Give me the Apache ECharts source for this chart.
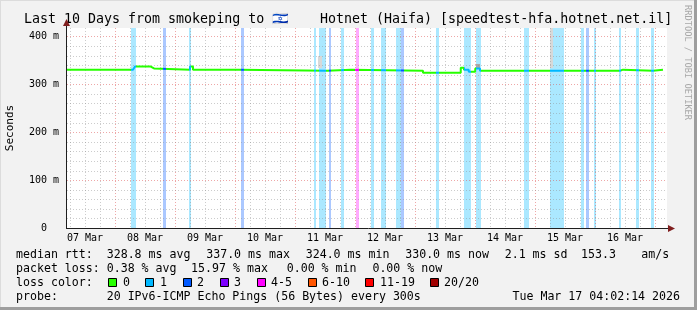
<!DOCTYPE html>
<html><head><meta charset="utf-8">
<script src="https://cdn.jsdelivr.net/npm/echarts@6/dist/echarts.min.js"></script>
<style>html,body{margin:0;padding:0;background:#f2f2f2}#c{width:697px;height:310px}</style>
</head><body><div id="c"></div>
<script>
// ---- data (time in hours since 07 Mar 00:00) ----
const dayLabels = ['07 Mar','08 Mar','09 Mar','10 Mar','11 Mar','12 Mar','13 Mar','14 Mar','15 Mar','16 Mar'];
const labelHours = [12, 36, 60, 84, 108, 132, 156, 180, 204, 228];
const yTickLabels = ['0', '100 m', '200 m', '300 m', '400 m'];

// median RTT (ms), step line
const rttTimes  = [4.8, 31.2, 32.0, 38.3, 38.8, 39.6, 54.0, 55.2, 73.6, 108.8, 118.4, 147.2, 162.3, 163.6, 165.5, 168.1, 170.0, 226.0, 227.2, 239.2, 243.2];
const rttValues = [330.5, 334, 337, 335, 333, 330.5, 337, 330.5, 328.4, 330.5, 328.4, 324.2, 334.7, 330.3, 326, 333, 328.4, 330.5, 328.4, 330.5, 330.5];

// packet loss periods: start, end (hours), loss colour class
const bandStart = [30.4, 43.2, 53.6, 74.4, 103.6, 105.6, 109.6, 114.4, 120.2, 126.4, 130.4, 136.4, 138.4, 152.4, 163.6, 168.4, 187.6, 198.0, 210.4, 212.4, 215.6, 225.6, 232.4, 238.4];
const bandEnd   = [32.4, 44.4, 54.4, 75.6, 104.4, 108.4, 110.4, 115.6, 121.6, 127.6, 132.4, 138.4, 139.6, 153.6, 166.4, 170.4, 189.6, 203.6, 211.6, 213.6, 216.4, 226.4, 233.6, 239.6];
const bandLoss  = [1, 2, 1, 2, 1, 1, 2, 1, 4, 1, 1, 1, 2, 1, 1, 1, 1, 1, 1, 2, 1, 1, 1, 1];

// smoke (rtt spread) patches
const smokeStart = [105.2, 168.4, 198.0];
const smokeEnd   = [106.8, 170.0, 199.2];
const smokeLow   = [334, 334, 334];
const smokeHigh  = [360, 342, 430];
const smokeLevel = [1, 3, 1];

const lossNames = ['0', '1', '2', '3', '4-5', '6-10', '11-19', '20/20'];

// ---- styling ----
const X0 = 4.8, X1 = 244.8, YMAX = 417.5;
const lossColors = ['#26ff00', '#00b8ff', '#0059ff', '#7e00ff', '#ff00ff', '#ff5500', '#ff0000', '#a10000'];
const smokeColors = ['#ffffff', '#d8d8d8', '#c0c0c0', '#a8a8a8'];
function alpha(hex, a) {
  const n = parseInt(hex.slice(1), 16);
  return 'rgba(' + (n >> 16) + ',' + ((n >> 8) & 255) + ',' + (n & 255) + ',' + a + ')';
}
const MONO = '"DejaVu Sans Mono", monospace';
const MINOR = 'rgba(143,143,143,0.45)';
const MAJOR = 'rgba(222,79,79,0.5)';

// visual pieces for line colour
const pieces = [];
let cur = X0 - 10;
for (let i = 0; i < bandStart.length; i++) {
  if (bandStart[i] > cur) pieces.push({gte: cur, lt: bandStart[i], color: lossColors[0]});
  pieces.push({gte: bandStart[i], lt: bandEnd[i], color: lossColors[bandLoss[i]]});
  cur = bandEnd[i];
}
pieces.push({gte: cur, lte: X1 + 10, color: lossColors[0]});

// grid positions
const vGrid = [];
for (let h = 6; h < X1; h += 6) if (h > X0) vGrid.push([h, h % 24 === 0 ? 1 : 0]);
const hGrid = [];
for (let v = 20; v < YMAX; v += 20) hGrid.push([X0, v, v % 100 === 0 ? 1 : 0]);

const chart = echarts.init(document.getElementById('c'), null, {renderer: 'canvas', width: 697, height: 310});

function txt(x, y, s, opts) {
  return Object.assign({type: 'text', x: x, y: y, silent: true,
    style: Object.assign({text: s, font: '11.6px ' + MONO, fill: '#000', textAlign: 'left', textVerticalAlign: 'middle'}, opts || {})});
}

const graphics = [];
// frame
graphics.push({type: 'rect', shape: {x: 0, y: 0, width: 697, height: 1}, style: {fill: '#dcdcdc'}, silent: true});
graphics.push({type: 'rect', shape: {x: 0, y: 0, width: 1, height: 310}, style: {fill: '#dcdcdc'}, silent: true});
graphics.push({type: 'rect', shape: {x: 694, y: 0, width: 3, height: 310}, style: {fill: '#9e9e9e'}, silent: true});
graphics.push({type: 'rect', shape: {x: 0, y: 307, width: 697, height: 3}, style: {fill: '#9e9e9e'}, silent: true});
// title (split so that the flag keeps the original spacing)
graphics.push(txt(24, 19.5, 'Last 10 Days from smokeping to \u{1F1EE}\u{1F1F1}', {font: '13.3px ' + MONO}));
graphics.push(txt(320, 19.5, 'Hotnet (Haifa) [speedtest-hfa.hotnet.net.il]', {font: '13.3px ' + MONO}));
// vertical labels
graphics.push({type: 'text', x: 10.5, y: 128, rotation: Math.PI / 2, silent: true,
  style: {text: 'Seconds', font: '11px ' + MONO, fill: '#000', textAlign: 'center', textVerticalAlign: 'middle'}});
graphics.push({type: 'text', x: 687, y: 5, rotation: -Math.PI / 2, silent: true,
  style: {text: 'RRDTOOL / TOBI OETIKER', font: '8.7px ' + MONO, fill: '#a8a8a8', textAlign: 'left', textVerticalAlign: 'middle'}});
// axes lines + arrows
graphics.push({type: 'line', shape: {x1: 67, y1: 228.5, x2: 670, y2: 228.5}, style: {stroke: '#1f1f1f', lineWidth: 1}, z: 100, silent: true});
graphics.push({type: 'polygon', shape: {points: [[668, 225], [668, 232], [675, 228.5]]}, style: {fill: '#801f1f'}, z: 100, silent: true});
graphics.push({type: 'line', shape: {x1: 66.5, y1: 229, x2: 66.5, y2: 25}, style: {stroke: '#1f1f1f', lineWidth: 1}, z: 100, silent: true});
graphics.push({type: 'polygon', shape: {points: [[63, 26], [70, 26], [66.5, 19]]}, style: {fill: '#801f1f'}, z: 100, silent: true});

// legend rows
const r1 = 254.5, r2 = 268.5, r3 = 282.5, r4 = 296.5;
graphics.push(txt(16, r1, 'median rtt:'));
graphics.push(txt(106.7, r1, '328.8 ms avg'));
graphics.push(txt(206.2, r1, '337.0 ms max'));
graphics.push(txt(305.7, r1, '324.0 ms min'));
graphics.push(txt(405.2, r1, '330.0 ms now'));
graphics.push(txt(504.7, r1, '2.1 ms sd'));
graphics.push(txt(581, r1, '153.3'));
graphics.push(txt(641.3, r1, 'am/s'));
graphics.push(txt(16, r2, 'packet loss:'));
graphics.push(txt(106.7, r2, '0.38 % avg'));
graphics.push(txt(191.1, r2, '15.97 % max'));
graphics.push(txt(286.7, r2, '0.00 % min'));
graphics.push(txt(372.4, r2, '0.00 % now'));
graphics.push(txt(16, r3, 'loss color:'));
const boxX = [108, 145.3, 182.7, 219.6, 256.9, 307.6, 365.3, 430.2];
const boxTextX = [123, 160, 197, 234, 271, 322, 380, 444];
for (let i = 0; i < lossNames.length; i++) {
  graphics.push({type: 'rect', shape: {x: Math.round(boxX[i]) + 0.5, y: 278.5, width: 8, height: 8},
    style: {fill: lossColors[i], stroke: '#000', lineWidth: 1}, silent: true});
  graphics.push(txt(boxTextX[i], r3, lossNames[i]));
}
graphics.push(txt(16, r4, 'probe:'));
graphics.push(txt(106.7, r4, '20 IPv6-ICMP Echo Pings (56 Bytes) every 300s'));
graphics.push(txt(680, r4, 'Tue Mar 17 04:02:14 2026', {textAlign: 'right'}));

const option = {
  animation: false,
  backgroundColor: '#f2f2f2',
  grid: {left: 67, top: 28, width: 600, height: 200, show: true, backgroundColor: '#ffffff', borderWidth: 0},
  xAxis: {
    type: 'value', min: X0, max: X1,
    axisLine: {show: false}, axisTick: {show: false}, splitLine: {show: false},
    axisLabel: {customValues: labelHours, formatter: function (v) { const i = labelHours.indexOf(v); return i >= 0 ? dayLabels[i] : ''; },
      fontFamily: MONO, fontSize: 10, color: '#000', margin: 5}
  },
  yAxis: {
    type: 'value', min: 0, max: YMAX, interval: 100,
    axisLine: {show: false}, axisTick: {show: false}, splitLine: {show: false},
    axisLabel: {showMaxLabel: false, formatter: function (v) { const i = v / 100; return yTickLabels[i] === '0' ? '0  ' : (yTickLabels[i] || ''); },
      fontFamily: MONO, fontSize: 10, color: '#000', margin: 8}
  },
  visualMap: {type: 'piecewise', show: false, dimension: 0, seriesIndex: 4, pieces: pieces},
  series: [
    {
      type: 'custom', z: 1, silent: true, encode: {x: [0, 1]},
      data: bandStart.map((s, i) => [s, bandEnd[i], bandLoss[i]]),
      renderItem: function (params, api) {
        const cs = params.coordSys;
        const a = Math.round(api.coord([api.value(0), 0])[0]);
        const b = Math.round(api.coord([api.value(1), 0])[0]);
        return {type: 'rect', shape: {x: a, y: cs.y, width: Math.max(1, b - a), height: cs.height},
          style: {fill: alpha(lossColors[api.value(2)], 0.33)}};
      }
    },
    {
      type: 'custom', z: 2, silent: true, encode: {x: [0, 1], y: [2, 3]},
      data: smokeStart.map((s, i) => [s, smokeEnd[i], smokeLow[i], smokeHigh[i], smokeLevel[i]]),
      renderItem: function (params, api) {
        const cs = params.coordSys;
        const p0 = api.coord([api.value(0), api.value(3)]);
        const p1 = api.coord([api.value(1), api.value(2)]);
        const top = Math.max(cs.y, Math.round(p0[1]));
        const x0 = Math.round(p0[0]), x1 = Math.round(p1[0]);
        return {type: 'rect', shape: {x: x0, y: top, width: x1 - x0, height: Math.round(p1[1]) - top},
          style: {fill: smokeColors[api.value(4)]}};
      }
    },
    {
      type: 'custom', z: 3, silent: true, encode: {x: 0},
      data: vGrid,
      renderItem: function (params, api) {
        const cs = params.coordSys;
        const x = Math.round(api.coord([api.value(0), 0])[0]) + 0.5;
        return {type: 'line', shape: {x1: x, y1: cs.y, x2: x, y2: cs.y + cs.height},
          style: {stroke: api.value(1) ? MAJOR : MINOR, lineWidth: 1, lineDash: [1, 2]}};
      }
    },
    {
      type: 'custom', z: 3, silent: true, encode: {x: 0, y: 1},
      data: hGrid,
      renderItem: function (params, api) {
        const cs = params.coordSys;
        const y = Math.round(api.coord([X0, api.value(1)])[1]) + 0.5;
        return {type: 'line', shape: {x1: cs.x, y1: y, x2: cs.x + cs.width, y2: y},
          style: {stroke: api.value(2) ? MAJOR : MINOR, lineWidth: 1, lineDash: [1, 2]}};
      }
    },
    {
      type: 'line', z: 5, step: 'end', showSymbol: false, silent: true,
      data: rttTimes.map((t, i) => [t, rttValues[i]]),
      lineStyle: {width: 2}
    }
  ],
  graphic: graphics
};
chart.setOption(option);
</script></body></html>
